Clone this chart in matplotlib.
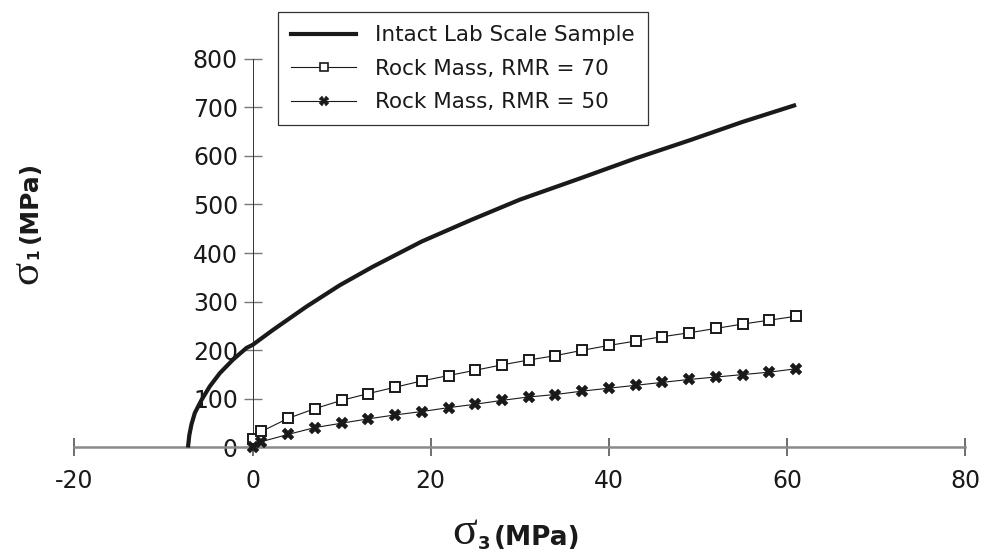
import matplotlib
matplotlib.use("Agg")
import matplotlib.pyplot as plt
from matplotlib.lines import Line2D

plt.rcParams['font.family'] = ['DejaVu Sans']

# Intact lab-scale failure envelope (sigma3, sigma1) in MPa
intact_s3 = [-7.25, -7.1, -6.85, -6.48, -5.72, -4.79, -3.67, -2.18, -0.67, 0.0, 2.3,
             6.06, 9.8, 13.5, 19.0, 24.5, 30.0, 36.8, 43.0, 49.2, 55.0, 61.0]
intact_s1 = [0, 25, 48, 71, 98, 126, 153, 181, 205, 211, 242,
             290, 334, 372, 424, 468, 510, 554, 595, 633, 670, 705]

# Rock mass envelopes, sampled confining pressures
rm_s3 = [0, 1, 4, 7, 10, 13, 16, 19, 22, 25, 28, 31, 34, 37, 40, 43, 46, 49, 52, 55, 58, 61]
rmr70_s1 = [18, 33, 60, 80, 97, 111, 124, 137, 148, 159, 170, 180, 189, 200, 210,
            219, 228, 236, 245, 254, 262, 270]
rmr50_s1 = [1, 12, 27, 41, 50, 59, 67, 74, 82, 89, 97, 104, 109, 116, 122,
            128, 134, 140, 145, 150, 155, 162]

series_labels = ["Intact Lab Scale Sample", "Rock Mass, RMR = 70", "Rock Mass, RMR = 50"]
x_ticks = [-20, 0, 20, 40, 60, 80]
y_ticks = [0, 100, 200, 300, 400, 500, 600, 700, 800]

W, H = 984, 555
fig = plt.figure(figsize=(W / 100, H / 100), dpi=100)
ax = fig.add_axes([0.0665, 0.1762, 0.9236, 0.7443])

ink = '#1a1a1a'
ax.plot(intact_s3, intact_s1, color=ink, lw=3.0, solid_capstyle='butt', zorder=4)
ax.plot(rm_s3, rmr70_s1, color=ink, lw=0.8, marker='s', ms=6.8,
        mfc='white', mec=ink, mew=1.4, zorder=5)
ax.plot(rm_s3, rmr50_s1, color=ink, lw=0.8, marker='X', ms=8.5,
        mfc=ink, mec=ink, mew=0.3, zorder=5)

ax.set_xlim(-21, 81)
ax.set_ylim(-20, 830)

for s in ['top', 'right']:
    ax.spines[s].set_visible(False)
ax.spines['bottom'].set_position(('data', 0))
ax.spines['bottom'].set_bounds(-20, 80)
ax.spines['bottom'].set_color('#8a8a8a')
ax.spines['bottom'].set_linewidth(1.8)
ax.spines['left'].set_position(('data', 0))
ax.spines['left'].set_bounds(0, 800)
ax.spines['left'].set_color('#333333')
ax.spines['left'].set_linewidth(0.7)

ax.set_xticks(x_ticks)
ax.set_xticklabels([str(v) for v in x_ticks])
ax.set_yticks(y_ticks)
ax.set_yticklabels([str(v) for v in y_ticks])
ax.tick_params(axis='x', direction='inout', length=13, width=1.2, color='#555555',
               labelsize=17, pad=9, labelcolor=ink)
ax.tick_params(axis='y', direction='inout', length=13, width=1.0, color='#777777',
               labelsize=17, pad=4, labelcolor=ink)


def fig_text(px, py, s, **kw):
    """Place text with its baseline-left anchor at a pixel position."""
    return fig.text(px / W, 1 - py / H, s, ha='left', va='baseline',
                    rotation_mode='anchor', color=ink, **kw)


# x-axis title: sigma_3 (MPa)
fig_text(452, 544, 'σ', fontsize=33, family='Liberation Serif')
fig_text(478, 549, '3', fontsize=13, fontweight='bold')
fig_text(494, 545, '(MPa)', fontsize=19, fontweight='bold')

# y-axis title: sigma_1 (MPa), reading upward
fig_text(37, 284, 'σ', fontsize=31, family='Liberation Serif', rotation=90)
fig_text(38, 259, '1', fontsize=11, fontweight='bold', rotation=90)
fig_text(37, 243, '(MPa)', fontsize=18, fontweight='bold', rotation=90)

handles = [
    Line2D([], [], color=ink, lw=3.0),
    Line2D([], [], color=ink, lw=0.8, marker='s', ms=5.5, mfc='white', mew=1.2),
    Line2D([], [], color=ink, lw=0.8, marker='X', ms=6.5, mfc=ink, mew=0.3),
]
leg = fig.legend(handles, series_labels, loc='upper left',
                 bbox_to_anchor=(278 / W, 1 - 12 / H), fontsize=15.5,
                 frameon=True, fancybox=False, framealpha=1, edgecolor='#333333',
                 handlelength=3.0, handletextpad=0.9, labelspacing=0.62,
                 borderpad=0.62, borderaxespad=0)
leg.get_frame().set_linewidth(0.9)
for t in leg.get_texts():
    t.set_color(ink)

fig.savefig('out.png', dpi=100)
